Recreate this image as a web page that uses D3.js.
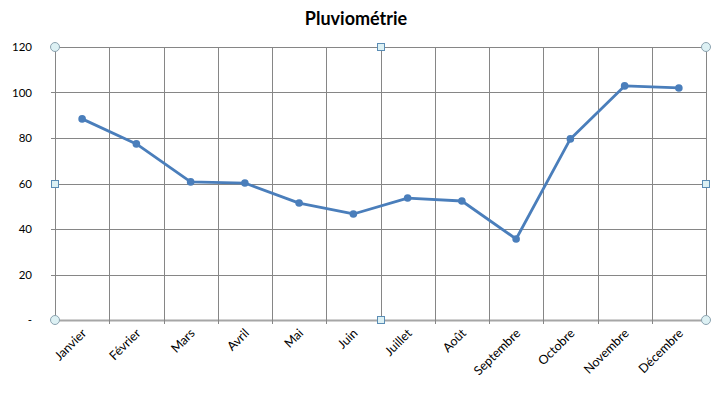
<!DOCTYPE html>
<html>
<head>
<meta charset="utf-8">
<script src="https://cdn.jsdelivr.net/npm/d3@7"></script>
<style>
  body { margin: 0; background: #fff; }
  text { font-family: Lato, "Open Sans", sans-serif; fill: #000; }
</style>
</head>
<body>
<div id="chartArea"></div>
<script>
// Daten
const months = ["Janvier", "Février", "Mars", "Avril", "Mai", "Juin", "Juillet", "Août", "Septembre", "Octobre", "Novembre", "Décembre"];
const rainfall = [88.4, 77.4, 60.7, 60.2, 51.4, 46.6, 53.6, 52.3, 35.6, 79.6, 102.9, 102];
const yTicks = [0, 20, 40, 60, 80, 100, 120];

const width = 717, height = 396, margin = {top: 47, right: 11, bottom: 76, left: 55};
const innerWidth = width - margin.left - margin.right;
const innerHeight = height - margin.top - margin.bottom;

const svg = d3.select("#chartArea").append("svg")
    .attr("width", width)
    .attr("height", height);

const g = svg.append("g")
    .attr("transform", `translate(${margin.left}, ${margin.top})`);

const xScale = d3.scaleBand().domain(months).range([0, innerWidth]);
const yScale = d3.scaleLinear().domain([0, 120]).range([innerHeight, 0]);

// Titel
svg.append("text")
    .attr("x", 356)
    .attr("y", 25)
    .attr("text-anchor", "middle")
    .style("font-size", "18px")
    .style("font-weight", "bold")
    .text("Pluviométrie");

// Rasterlinien horizontal
g.selectAll(".y-grid")
    .data(yTicks)
    .enter()
    .append("line")
    .attr("x1", -4)
    .attr("x2", innerWidth)
    .attr("y1", d => Math.round(yScale(d)) + 0.5)
    .attr("y2", d => Math.round(yScale(d)) + 0.5)
    .attr("stroke", d => d === 0 ? "#a6a6a6" : "#868686")
    .attr("stroke-width", d => d === 0 ? 2 : 1);

// Rasterlinien vertikal (Kategoriegrenzen)
const bounds = months.map(m => xScale(m)).concat([innerWidth]);
g.selectAll(".x-grid")
    .data(bounds)
    .enter()
    .append("line")
    .attr("x1", d => Math.round(d) + 0.5)
    .attr("x2", d => Math.round(d) + 0.5)
    .attr("y1", 0)
    .attr("y2", innerHeight + 4)
    .attr("stroke", "#868686");

// Y-Achsenbeschriftung
g.selectAll(".y-label")
    .data(yTicks)
    .enter()
    .append("text")
    .attr("x", -23)
    .attr("y", d => yScale(d) + 4)
    .attr("text-anchor", "end")
    .style("font-size", "11.5px")
    .text(d => d === 0 ? "-" : d);

// X-Achsenbeschriftung
g.selectAll(".x-label")
    .data(months)
    .enter()
    .append("text")
    .attr("text-anchor", "end")
    .attr("transform", d => `translate(${xScale(d) + xScale.bandwidth() / 2 + 5}, ${innerHeight + 14}) rotate(-45)`)
    .style("font-size", "12.5px")
    .text(d => d);

// Linie
const line = d3.line()
    .x((d, i) => xScale(months[i]) + xScale.bandwidth() / 2)
    .y(d => yScale(d));

g.append("path")
    .datum(rainfall)
    .attr("d", line)
    .attr("fill", "none")
    .attr("stroke", "#4a7ebb")
    .attr("stroke-width", 2.8)
    .attr("stroke-linejoin", "round");

g.selectAll(".dot")
    .data(rainfall)
    .enter()
    .append("circle")
    .attr("cx", (d, i) => xScale(months[i]) + xScale.bandwidth() / 2)
    .attr("cy", d => yScale(d))
    .attr("r", 3.8)
    .attr("fill", "#4a7ebb");

// Auswahlgriffe
const corners = [[0, 0], [innerWidth, 0], [0, innerHeight], [innerWidth, innerHeight]];
g.selectAll(".corner")
    .data(corners)
    .enter()
    .append("circle")
    .attr("cx", d => d[0])
    .attr("cy", d => d[1])
    .attr("r", 4.5)
    .attr("fill", "#ddf1f4")
    .attr("stroke", "#8ca3b0");

const mids = [[innerWidth / 2, 0], [innerWidth / 2, innerHeight], [0, innerHeight / 2], [innerWidth, innerHeight / 2]];
g.selectAll(".mid")
    .data(mids)
    .enter()
    .append("rect")
    .attr("x", d => Math.round(d[0]) - 3.5)
    .attr("y", d => Math.round(d[1]) - 3.5)
    .attr("width", 7)
    .attr("height", 7)
    .attr("fill", "#ddf1f4")
    .attr("stroke", "#5b8db5");
</script>
</body>
</html>
